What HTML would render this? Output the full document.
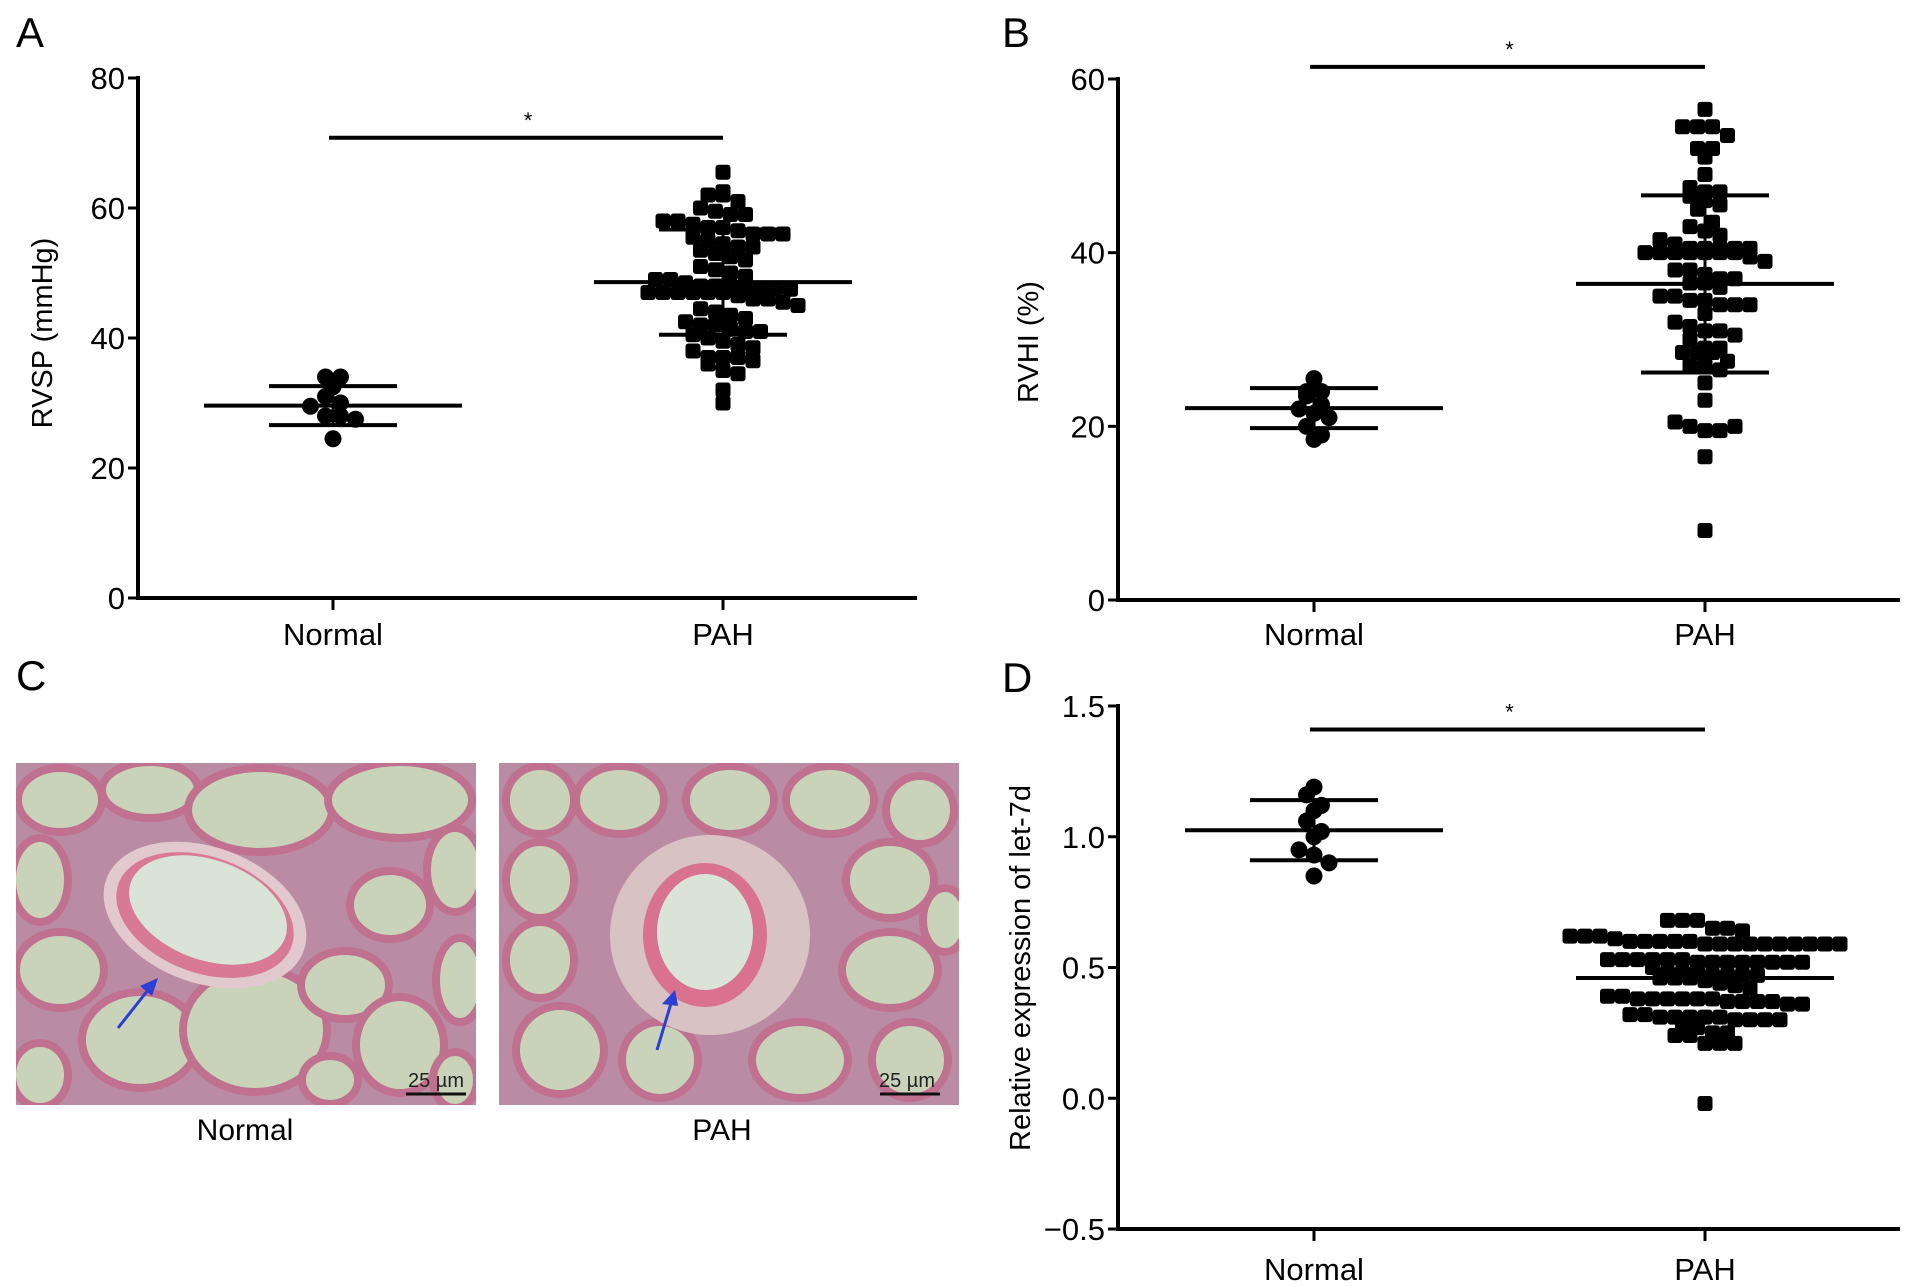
<!DOCTYPE html>
<html><head><meta charset="utf-8">
<style>
html,body{margin:0;padding:0;background:#fff;}
svg{display:block;font-family:"Liberation Sans",Arial,sans-serif;}
</style></head>
<body>
<svg id="fig" width="1913" height="1287" viewBox="0 0 1913 1287" xmlns="http://www.w3.org/2000/svg">
<defs>
<clipPath id="clipN"><rect x="16" y="763" width="460" height="342"/></clipPath>
<clipPath id="clipP"><rect x="499" y="763" width="460" height="342"/></clipPath>
</defs>
<rect width="1913" height="1287" fill="#fff"/>
<text x="16" y="47" font-size="42">A</text>
<text x="1002" y="47" font-size="42">B</text>
<text x="16" y="690" font-size="42">C</text>
<text x="1002" y="692" font-size="42">D</text>

<g clip-path="url(#clipN)">
<rect x="16" y="763" width="460" height="342" fill="#b98ca4"/>
<g fill="#c8d3ba" stroke="#c0718f" stroke-width="8">
<ellipse cx="60" cy="800" rx="42" ry="32"/><ellipse cx="150" cy="790" rx="48" ry="28"/><ellipse cx="260" cy="810" rx="72" ry="42"/>
<ellipse cx="400" cy="800" rx="72" ry="38"/><ellipse cx="455" cy="870" rx="28" ry="42"/><ellipse cx="390" cy="905" rx="40" ry="34"/>
<ellipse cx="40" cy="880" rx="28" ry="42"/><ellipse cx="60" cy="970" rx="44" ry="38"/><ellipse cx="140" cy="1040" rx="58" ry="48"/>
<ellipse cx="255" cy="1030" rx="72" ry="62"/><ellipse cx="345" cy="985" rx="44" ry="34"/><ellipse cx="400" cy="1045" rx="44" ry="48"/>
<ellipse cx="460" cy="980" rx="24" ry="42"/><ellipse cx="40" cy="1075" rx="28" ry="32"/><ellipse cx="330" cy="1080" rx="28" ry="24"/>
<ellipse cx="455" cy="1080" rx="22" ry="28"/>
</g>
<ellipse cx="205" cy="915" rx="105" ry="68" fill="#e2c9cf" transform="rotate(20 205 915)"/>
<ellipse cx="205" cy="915" rx="92" ry="58" fill="#d87a95" transform="rotate(20 205 915)"/>
<ellipse cx="208" cy="910" rx="82" ry="50" fill="#d9e3d6" transform="rotate(20 208 910)"/>
<line x1="118" y1="1028" x2="152" y2="985" stroke="#2a3fd6" stroke-width="3"/>
<polygon points="158,978 140,986 152,996" fill="#2a3fd6"/>
<text x="436" y="1087" font-size="20" text-anchor="middle" fill="#222">25 µm</text>
<line x1="406" y1="1094" x2="466" y2="1094" stroke="#111" stroke-width="3"/>
</g>
<g clip-path="url(#clipP)">
<rect x="499" y="763" width="460" height="342" fill="#b98ca4"/>
<g fill="#c8d3ba" stroke="#c0718f" stroke-width="8">
<ellipse cx="540" cy="800" rx="34" ry="34"/><ellipse cx="620" cy="800" rx="44" ry="34"/><ellipse cx="730" cy="800" rx="44" ry="34"/>
<ellipse cx="830" cy="800" rx="44" ry="34"/><ellipse cx="920" cy="810" rx="34" ry="34"/><ellipse cx="540" cy="880" rx="34" ry="38"/>
<ellipse cx="890" cy="880" rx="44" ry="38"/><ellipse cx="540" cy="960" rx="34" ry="38"/><ellipse cx="890" cy="970" rx="48" ry="38"/>
<ellipse cx="560" cy="1050" rx="44" ry="44"/><ellipse cx="660" cy="1060" rx="38" ry="38"/><ellipse cx="800" cy="1060" rx="48" ry="38"/>
<ellipse cx="910" cy="1060" rx="38" ry="38"/><ellipse cx="945" cy="920" rx="22" ry="32"/>
</g>
<circle cx="710" cy="935" r="100" fill="#d8c2c4"/>
<ellipse cx="705" cy="935" rx="62" ry="72" fill="#d9728f"/>
<ellipse cx="705" cy="932" rx="48" ry="58" fill="#d9e3d6"/>
<line x1="657" y1="1050" x2="672" y2="1000" stroke="#2a3fd6" stroke-width="3"/>
<polygon points="675,990 662,1004 678,1006" fill="#2a3fd6"/>
<text x="907" y="1087" font-size="20" text-anchor="middle" fill="#222">25 µm</text>
<line x1="880" y1="1094" x2="940" y2="1094" stroke="#111" stroke-width="3"/>
</g>
<text x="245" y="1140" font-size="30" text-anchor="middle">Normal</text>
<text x="722" y="1140" font-size="30" text-anchor="middle">PAH</text>
</svg>
<script>
const categories = ["Normal", "PAH"];
// Panel A: RVSP (mmHg)
const rvspNormal = [34,34,32.5,31,30,29.5,28,28,27.5,24.5];
const rvspPAH = [65.5,62,62,62.5,61,60,59.5,59,59,58,58,57.5,57,57,56.5,56,56,56,55.5,55,54.5,54,54,53.5,53,52.5,52,51,50.5,50,49.5,49,49,48.5,48,48,48,47.5,47.5,47.5,47.5,47,47,47,47,47,47,46.5,46,46,45.5,45,44.5,44,43.5,43,42.5,42,42,41.5,41,41,40.5,40,39.5,39,38.5,38,37,37,37,36.5,36,35,34.5,32,30];
const rvspStats = {normalMean:29.6, normalSD:3.0, pahMean:48.6, pahSD:8.1};
const rvspTicks = [0,20,40,60,80];
// Panel B: RVHI (%)
const rvhiNormal = [25.5,24,24,23.5,22.5,22,21.5,21,20,19,18.5];
const rvhiPAH = [56.5,54.5,54.5,54.5,53.5,52,52,51,49,47.5,47,47,46.5,46,45.5,45,43.5,43,42.5,42,41.5,41,40.5,40.5,40.5,40.5,40.5,40,40,40,40,40,40,40,39.5,39,38,38,37.5,37,37,36.5,36.5,36,35,35,34.5,34.5,34,34,34,33,32,31.5,31,31,30.5,30,29,29,28.5,28.5,28.5,27.5,27,27,26.5,25,23,20.5,20,19.5,19.5,20,16.5,8];
const rvhiStats = {normalMean:22.1, normalSD:2.3, pahMean:36.4, pahSD:10.2};
const rvhiTicks = [0,20,40,60];
// Panel D: relative let-7d expression
const let7Normal = [1.19,1.16,1.12,1.1,1.06,1.02,1.0,0.95,0.93,0.9,0.85];
const let7PAH = [0.68,0.68,0.68,0.65,0.65,0.64,0.62,0.62,0.62,0.61,0.6,0.6,0.6,0.6,0.6,0.59,0.59,0.59,0.59,0.59,0.59,0.59,0.59,0.59,0.59,0.53,0.53,0.53,0.53,0.53,0.53,0.52,0.52,0.52,0.52,0.52,0.52,0.52,0.52,0.5,0.48,0.48,0.48,0.47,0.47,0.47,0.47,0.46,0.46,0.46,0.45,0.44,0.43,0.42,0.39,0.39,0.38,0.38,0.38,0.38,0.38,0.38,0.37,0.37,0.37,0.37,0.36,0.36,0.32,0.32,0.31,0.31,0.31,0.31,0.31,0.3,0.3,0.3,0.3,0.28,0.27,0.25,0.25,0.24,0.24,0.21,0.21,0.21,-0.02];
const let7Stats = {normalMean:1.025, normalSD:0.115, pahMean:0.46, pahSD:0.0};
const let7Ticks = [-0.5,0.0,0.5,1.0,1.5];
const let7TickLabels = ["\u22120.5","0.0","0.5","1.0","1.5"];

const NS="http://www.w3.org/2000/svg";
const svg=document.getElementById('fig');
function mk(tag,attrs,parent){const e=document.createElementNS(NS,tag);for(const k in attrs)e.setAttribute(k,attrs[k]);(parent||svg).appendChild(e);return e;}

function panel(cfg){
  const g=mk('g',{});
  
  
  const yS=v=>cfg.y0px+(v-cfg.vmin)/(cfg.vmax-cfg.vmin)*(cfg.y1px-cfg.y0px);
  const xS=i=>cfg.catX[i];
  const ya=mk('line',{x1:cfg.ax,y1:yS(cfg.vmax)-2,x2:cfg.ax,y2:cfg.y0px+2,stroke:'#000','stroke-width':4},g);
  
  
  const xa=mk('line',{x1:cfg.ax-2,y1:cfg.y0px,x2:cfg.axEnd,y2:cfg.y0px,stroke:'#000','stroke-width':4},g);
  
  
  cfg.ticks.forEach((t,i)=>{
    mk('line',{x1:cfg.ax-10,y1:yS(t),x2:cfg.ax,y2:yS(t),stroke:'#000','stroke-width':3},g);
    const tx=mk('text',{x:cfg.ax-13,y:yS(t)+11,'font-size':31,'text-anchor':'end'},g);
    tx.textContent=cfg.tickLabels?cfg.tickLabels[i]:String(t);
    
    
  });
  categories.forEach((c,i)=>{
    mk('line',{x1:xS(i),y1:cfg.y0px,x2:xS(i),y2:cfg.y0px+12,stroke:'#000','stroke-width':3},g);
    const tx=mk('text',{x:xS(i),y:cfg.catY,'font-size':31,'text-anchor':'middle'},g);
    tx.textContent=c;
    
    
  });
  const tt=mk('text',{x:0,y:0,'font-size':29,'text-anchor':'middle',transform:`translate(${cfg.titleX},${cfg.titleY}) rotate(-90)`},g);
  tt.textContent=cfg.title;
  
  
  const sy=yS(cfg.sigV);
  const sb=mk('line',{x1:xS(0)-4,y1:sy,x2:xS(1),y2:sy,stroke:'#000','stroke-width':4},g);
  
  
  const st=mk('text',{x:(xS(0)+xS(1))/2,y:sy-10,'font-size':22,'text-anchor':'middle'},g);
  st.textContent='*';
  
  
  const M=15;
  [[cfg.normal,0,'circle'],[cfg.pah,1,'square']].forEach(([vals,ci,shape])=>{
    const unit=Math.abs(cfg.y1px-cfg.y0px)/(cfg.vmax-cfg.vmin);
    const binV=(M*0.95)/unit;
    const bins={};
    vals.forEach(v=>{const k=Math.round(v/binV);(bins[k]=bins[k]||[]).push(v);});
    Object.values(bins).forEach(arr=>{
      arr.forEach((v,j)=>{
        const off=(j-(arr.length-1)/2)*M;
        const cx=xS(ci)+off, cy=yS(v);
        let e;
        if(shape==='circle') e=mk('circle',{cx:cx,cy:cy,r:M/2+1,fill:'#000'},g);
        else e=mk('rect',{x:cx-M/2,y:cy-M/2,width:M,height:M,rx:3,fill:'#000'},g);
        
        
      });
    });
  });
  const s=cfg.stats;
  [[s.normalMean,s.normalSD,0],[s.pahMean,s.pahSD,1]].forEach(([m,sd,ci])=>{
    const w=cfg.meanHalf, ws=cfg.sdHalf;
    const ml=mk('line',{x1:xS(ci)-w,y1:yS(m),x2:xS(ci)+w,y2:yS(m),stroke:'#000','stroke-width':4},g);
    
    
    if(sd>0){
      [m+sd,m-sd].forEach(v=>{
        const l=mk('line',{x1:xS(ci)-ws,y1:yS(v),x2:xS(ci)+ws,y2:yS(v),stroke:'#000','stroke-width':4},g);
        
        
      });
      const vl=mk('line',{x1:xS(ci),y1:yS(m+sd),x2:xS(ci),y2:yS(m-sd),stroke:'#000','stroke-width':3},g);
      
      
    }
  });
}

panel({name:'panel-a-rvsp',ax:138,axEnd:917,y0px:598,y1px:78,vmin:0,vmax:80,catX:[333,723],catY:645,
  ticks:rvspTicks,title:'RVSP (mmHg)',titleX:52,titleY:333,sigV:70.8,normal:rvspNormal,pah:rvspPAH,stats:rvspStats,meanHalf:129,sdHalf:64});
panel({name:'panel-b-rvhi',ax:1118,axEnd:1900,y0px:600,y1px:79,vmin:0,vmax:60,catX:[1314,1705],catY:645,
  ticks:rvhiTicks,title:'RVHI (%)',titleX:1038,titleY:342,sigV:61.4,normal:rvhiNormal,pah:rvhiPAH,stats:rvhiStats,meanHalf:129,sdHalf:64});
panel({name:'panel-d-let7d',ax:1118,axEnd:1900,y0px:1229,y1px:706,vmin:-0.5,vmax:1.5,catX:[1314,1705],catY:1280,
  ticks:let7Ticks,tickLabels:let7TickLabels,title:'Relative expression of let-7d',titleX:1030,titleY:968,sigV:1.41,normal:let7Normal,pah:let7PAH,stats:let7Stats,meanHalf:129,sdHalf:64});
</script>
</body></html>
